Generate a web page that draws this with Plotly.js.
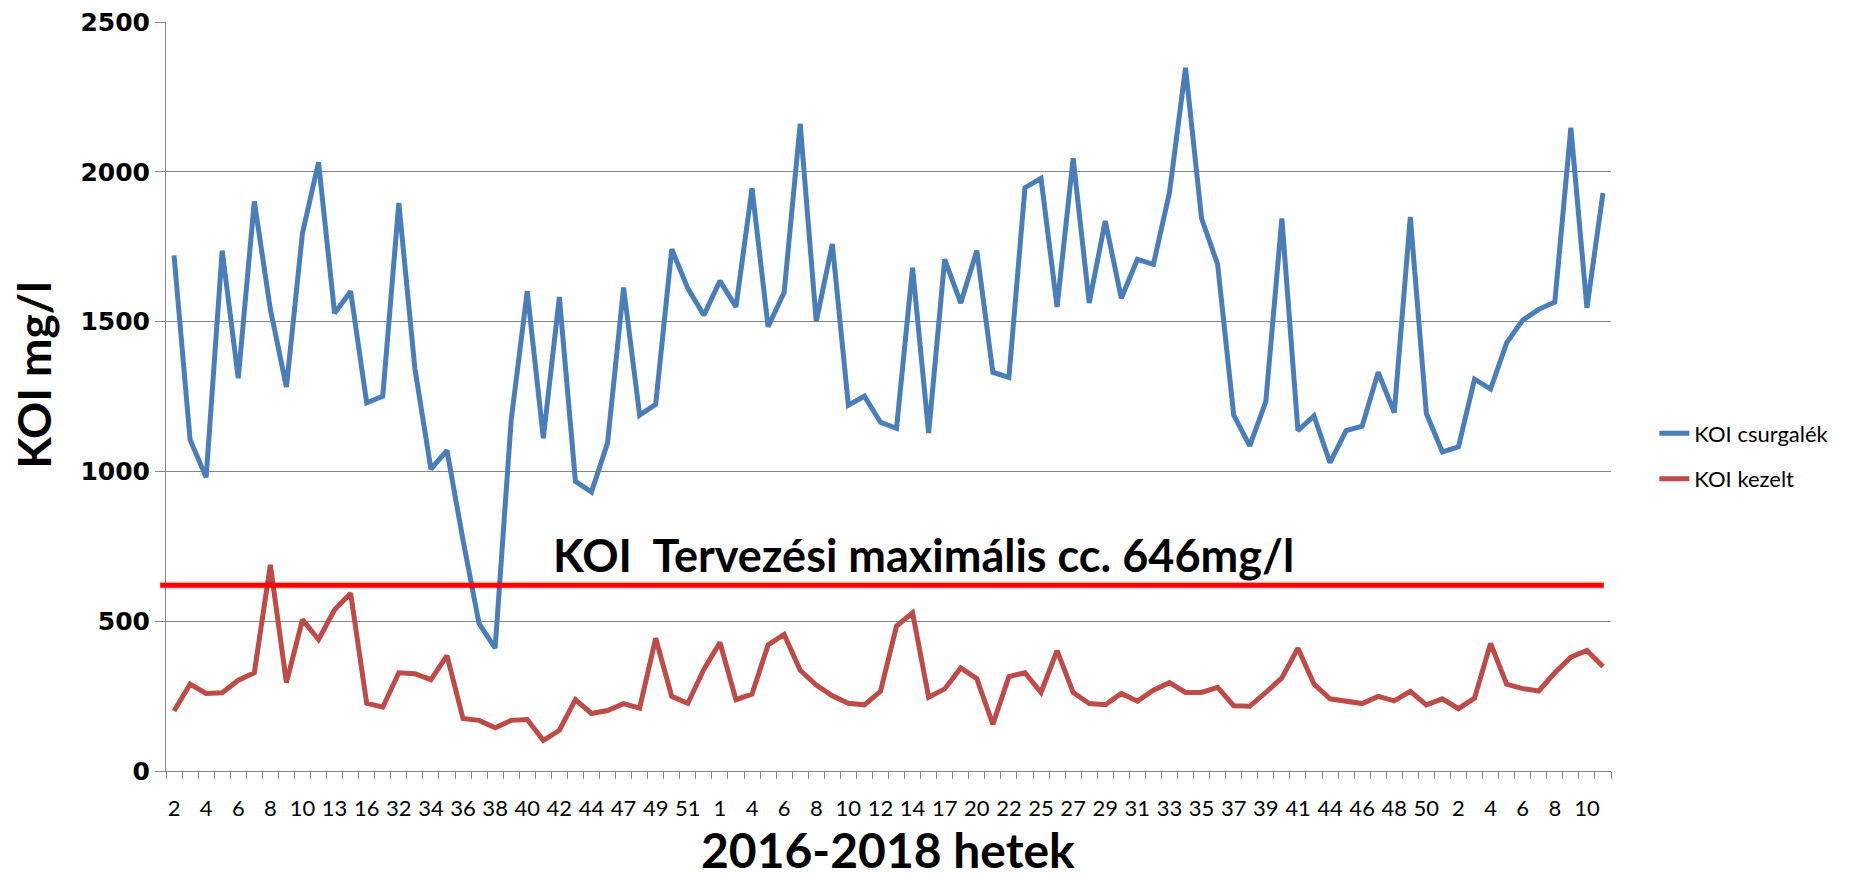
<!DOCTYPE html>
<html>
<head>
<meta charset="utf-8">
<script src="https://cdn.plot.ly/plotly-3.0.1.min.js"></script>
<style>html,body{margin:0;padding:0;background:#fff;}#chart{width:1864px;height:880px;}</style>
</head>
<body>
<div id="chart"></div>
<script>
// Visible week tick labels (every second week, 2016-2018)
const tickLabels = ["2","4","6","8","10","13","16","32","34","36","38","40","42","44","47","49","51",
  "1","4","6","8","10","12","14","17","20","22","25","27","29","31","33","35","37","39","41","44","46","48","50",
  "2","4","6","8","10"];

// KOI csurgalék (raw leachate COD), mg/l
const koiCsurgalek = [1721,1106,980,1737,1311,1901,1541,1282,1795,2032,1528,1601,1229,1251,1896,
  1344,1008,1070,770,492,410,1172,1601,1111,1582,967,931,1095,1614,1188,
  1224,1742,1611,1521,1636,1549,1945,1483,1598,2160,1500,1759,1221,1251,1164,
  1144,1680,1128,1708,1562,1737,1331,1314,1947,1978,1549,2045,1562,1836,1578,
  1708,1691,1931,2347,1844,1691,1188,1085,1233,1844,1136,1185,1029,1136,1151,
  1331,1196,1849,1193,1065,1082,1308,1275,1429,1505,1541,1565,2147,1546,1929];

// KOI kezelt (treated COD), mg/l
const koiKezelt = [200,290,259,261,303,328,688,295,505,439,538,593,226,213,328,
  325,305,385,175,169,144,169,172,102,136,238,192,202,225,210,
  443,249,226,339,429,238,257,421,456,336,287,251,226,221,266,
  484,528,246,274,344,308,156,315,328,262,402,262,225,221,259,
  233,270,295,262,262,279,218,216,262,311,410,290,241,233,225,
  249,234,266,221,241,208,243,426,290,275,267,328,380,402,349];

// Design maximum line (drawn level) and label
const limitLevel = 620;
const limitLabel = "KOI\u00A0 Tervezési maximális cc. 646mg/l";

const seriesNames = ["KOI csurgalék", "KOI kezelt"];
const seriesColors = ["#4A7EBB", "#BE4B48"];
const yTitle = "KOI mg/l";
const xTitle = "2016-2018 hetek";

const xIdx = koiCsurgalek.map((_, i) => i);
const tickVals = tickLabels.map((_, i) => i * 2);
const boundaryTicks = [];
for (let i = 0; i <= xIdx.length; i++) boundaryTicks.push(i - 0.5);

const gridColor = "#868686";
const calibri = "Lato, 'Open Sans', sans-serif";

const traces = [
  {x: xIdx, y: koiCsurgalek, name: seriesNames[0], type: "scatter", mode: "lines",
   line: {color: seriesColors[0], width: 5}, legendgroup: "a"},
  {x: xIdx, y: koiKezelt, name: seriesNames[1], type: "scatter", mode: "lines",
   line: {color: seriesColors[1], width: 5}, legendgroup: "b"}
];

const layout = {
  width: 1864, height: 880,
  margin: {l: 166, r: 253, t: 22, b: 109},
  paper_bgcolor: "#fff", plot_bgcolor: "#fff",
  showlegend: true,
  legend: {x: 1.03, xanchor: "left", y: 0.42, yanchor: "middle",
    font: {family: calibri, size: 22, color: "#000"}, traceorder: "grouped", tracegroupgap: 14},
  xaxis: {
    range: [-0.5, xIdx.length - 0.5], tickmode: "array", tickvals: tickVals, ticktext: tickLabels,
    ticks: "outside", ticklen: 18, tickcolor: "rgba(0,0,0,0)",
    tickfont: {family: calibri, size: 22, color: "#000"},
    showgrid: false, zeroline: false, showline: true, linecolor: gridColor, linewidth: 1,
    minor: {tickmode: "array", tickvals: boundaryTicks, ticks: "outside", ticklen: 7, tickcolor: gridColor, showgrid: false}
  },
  yaxis: {
    range: [0, 2500], tickmode: "linear", tick0: 0, dtick: 500,
    ticks: "outside", ticklen: 10, tickcolor: gridColor,
    tickfont: {family: "'DejaVu Sans', Verdana, sans-serif", size: 25, weight: "bold", color: "#000"},
    showgrid: true, gridcolor: gridColor, gridwidth: 1, zeroline: false,
    showline: true, linecolor: gridColor, linewidth: 1
  },
  shapes: [
    {type: "line", xref: "paper", yref: "y", x0: -0.004, x1: 0.995, y0: limitLevel, y1: limitLevel,
     line: {color: "rgba(0,0,0,0.12)", width: 8}, yshift: -4},
    {type: "line", xref: "paper", yref: "y", x0: -0.004, x1: 0.995, y0: limitLevel, y1: limitLevel,
     line: {color: "#FF0000", width: 5}}
  ],
  annotations: [
    {xref: "paper", yref: "y", x: 0.524, y: limitLevel, xanchor: "center", yanchor: "bottom", yshift: 1,
     text: limitLabel, showarrow: false, font: {family: calibri, size: 45, weight: "bold", color: "#000"}},
    {xref: "paper", yref: "paper", x: -0.0913, y: 0.529, xanchor: "center", yanchor: "middle", textangle: -90,
     text: yTitle, showarrow: false, font: {family: calibri, size: 46, weight: "bold", color: "#000"}},
    {xref: "paper", yref: "paper", x: 0.4997, y: -0.1445, xanchor: "center", yanchor: "bottom", borderpad: 0,
     text: xTitle, showarrow: false, font: {family: calibri, size: 48, weight: "bold", color: "#000"}}
  ]
};

Plotly.newPlot("chart", traces, layout, {displayModeBar: false, staticPlot: true});
</script>
</body>
</html>
